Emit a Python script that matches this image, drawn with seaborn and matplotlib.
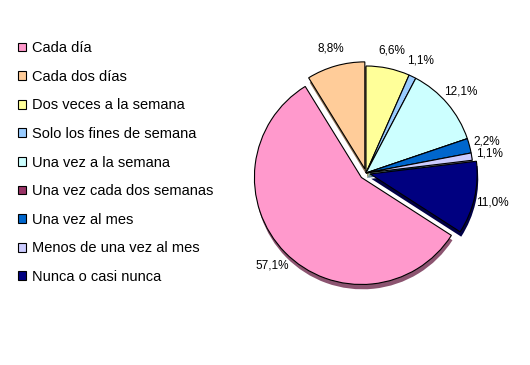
import matplotlib
matplotlib.use('Agg')
import matplotlib.pyplot as plt
import seaborn as sns
import numpy as np
from matplotlib.patches import Patch

categories = ["Cada día", "Cada dos días", "Dos veces a la semana",
              "Solo los fines de semana", "Una vez a la semana",
              "Una vez cada dos semanas", "Una vez al mes",
              "Menos de una vez al mes", "Nunca o casi nunca"]
values = [57.1, 8.8, 6.6, 1.1, 12.1, 0.0, 2.2, 1.1, 11.0]

sns.set_theme(style="white")
plt.rcParams['font.family'] = ['Liberation Sans', 'DejaVu Sans']

palette = sns.color_palette(["#FF99CC", "#FFCC99", "#FFFF99", "#99CCFF", "#CCFFFF",
                             "#993366", "#0066CC", "#CCCCFF", "#000080"])
explode = [0.06, 0.04, 0, 0, 0, 0, 0, 0, 0.04]

fig = plt.figure(figsize=(5.3, 3.65), dpi=100)
R = 107
cx, cy = 366, 173
half = 1.45
w = 2 * half * R / 530
h = 2 * half * R / 365
ax = fig.add_axes([cx / 530 - w / 2, 1 - cy / 365 - h / 2, w, h])

total = sum(values)
start = 90 - 360 * sum(values[2:]) / total
shadow = [tuple(np.array(c) * 0.55) for c in palette]

ax.pie(values, colors=shadow, explode=explode, startangle=start, counterclock=False,
       center=(0.01, -0.045), wedgeprops=dict(linewidth=0))
ax.pie(values, colors=palette, explode=explode, startangle=start, counterclock=False,
       autopct=lambda p: ('%.1f%%' % p).replace('.', ',') if p > 0.05 else '',
       pctdistance=1.17,
       wedgeprops=dict(edgecolor='black', linewidth=0.8),
       textprops=dict(fontsize=8.5, color='black'))
ax.set_xlim(-half, half)
ax.set_ylim(-half, half)
ax.axis('off')

handles = [Patch(facecolor=c, edgecolor='black', linewidth=0.8) for c in palette]
fig.legend(handles, categories, loc='upper left', bbox_to_anchor=(0.034, 0.887),
           frameon=False, fontsize=10.5, handlelength=0.55, handleheight=0.55,
           handletextpad=0.4, labelspacing=1.0, borderaxespad=0, borderpad=0,
           labelcolor='black')

fig.savefig('out.png', dpi=100, facecolor='white')
